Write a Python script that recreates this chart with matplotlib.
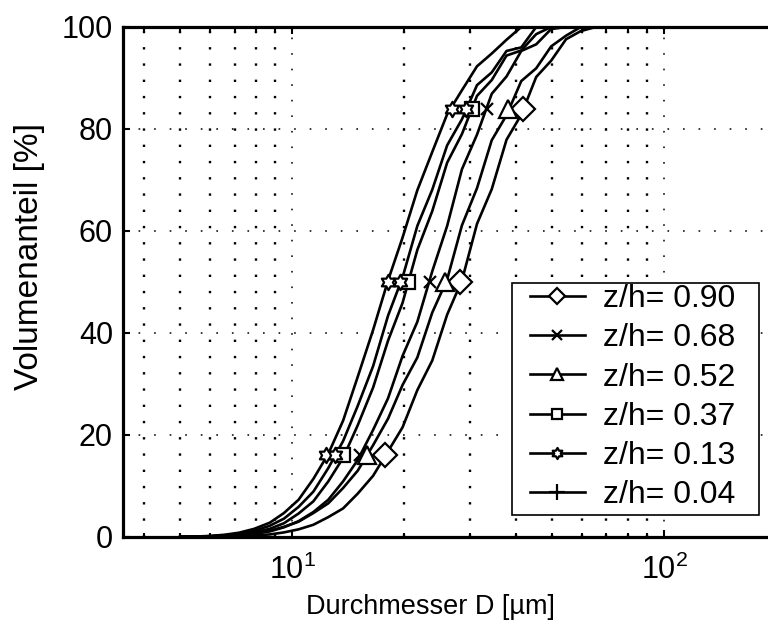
import numpy as np
import matplotlib
matplotlib.use('Agg')
import matplotlib.pyplot as plt
from matplotlib.path import Path
from matplotlib.lines import Line2D
from matplotlib.patches import Rectangle

plt.rcParams['font.family'] = ['Liberation Sans', 'DejaVu Sans']
plt.rcParams['mathtext.fontset'] = 'custom'
plt.rcParams['mathtext.rm'] = 'Liberation Sans'
plt.rcParams['mathtext.it'] = 'Liberation Sans'
plt.rcParams['lines.scale_dashes'] = False

# ---------------- data ----------------
labels = ['z/h= 0.90', 'z/h= 0.68', 'z/h= 0.52', 'z/h= 0.37', 'z/h= 0.13', 'z/h= 0.04']

diam = [5.0, 5.5, 6.0, 6.6, 7.2, 7.9, 8.7, 9.5, 10.4, 11.4, 12.5, 13.7, 15.0, 16.5,
        18.1, 19.8, 21.7, 23.8, 26.1, 28.6, 31.4, 34.4, 37.7, 41.3, 45.3, 49.7,
        54.5, 59.7, 65.5]

v090 = [0, 0, 0.05, 0.1, 0.2, 0.3, 0.5, 0.9, 1.5, 2.4, 3.9, 5.6, 8.5, 12.0, 16.8,
        21.5, 28.8, 34.6, 43.6, 50.3, 61.4, 68.2, 77.9, 82.8, 90.2, 93.4, 97.6, 99.2, 100]
v068 = [0, 0.04, 0.1, 0.2, 0.35, 0.6, 1.1, 1.9, 3.1, 4.9, 7.3, 10.9, 15.1, 21.0, 27.2,
        35.5, 42.2, 52.1, 61.0, 72.1, 78.9, 86.9, 90.3, 95.3, 96.6, 99.6, 100, 100, 100]
v052 = [0.03, 0.07, 0.13, 0.25, 0.4, 0.75, 1.2, 2.0, 3.0, 4.7, 6.6, 9.6, 13.0, 18.0, 23.2,
        29.8, 35.2, 44.0, 50.5, 61.1, 68.4, 77.8, 82.7, 89.4, 91.9, 96.2, 98.3, 100, 100]
v037 = [0, 0.05, 0.1, 0.23, 0.45, 0.9, 1.6, 2.7, 4.6, 7.0, 10.9, 15.5, 21.9, 29.3, 38.5,
        45.9, 56.3, 63.9, 73.4, 79.0, 86.5, 89.6, 94.4, 95.4, 98.6, 100, 100, 100, 100]
v013 = [0.05, 0.1, 0.2, 0.45, 0.85, 1.6, 2.8, 4.7, 7.3, 11.4, 16.3, 22.8, 31.4, 40.6, 50.3,
        58.7, 68.0, 75.5, 82.9, 87.6, 92.3, 94.8, 97.5, 100, 100, 100, 100, 100, 100]
v004 = [0.03, 0.08, 0.16, 0.35, 0.65, 1.2, 2.2, 3.6, 5.9, 8.9, 13.5, 18.8, 25.7, 33.5, 43.4,
        50.9, 61.0, 68.1, 76.8, 81.9, 88.6, 91.1, 95.3, 96.0, 100, 100, 100, 100, 100]

# characteristic diameters d16 / d50 / d84 (marker positions)
levels = [16, 50, 84]
d16 = [17.8, 15.2, 15.9, 13.7, 12.3, 13.05]
d50 = [28.3, 23.5, 25.8, 20.5, 18.1, 19.5]
d84 = [41.8, 33.4, 38.1, 30.5, 26.9, 29.4]

series = [v090, v068, v052, v037, v013, v004]

# ---------------- styles ----------------
ang = np.deg2rad(90 + 30 * np.arange(12))
rad = np.where(np.arange(12) % 2 == 0, 1.0, 0.577)
hexverts = np.column_stack([rad * np.cos(ang), rad * np.sin(ang)])
hexverts = np.vstack([hexverts, hexverts[:1]])
hexagram = Path(hexverts, closed=True)

plot_markers = ['D', 'x', '^', 's', hexagram, hexagram]
plot_msizes = [12.5, 9, 13, 10, 11, 11]
leg_markers = ['D', 'x', '^', 's', hexagram, '+']
leg_msizes = [8, 6.5, 9, 7, 8, 12]

W, H = 768, 628
fig = plt.figure(figsize=(W / 100, H / 100), dpi=100)
ax = fig.add_axes([122.7 / W, (H - 537) / H, (776 - 122.7) / W, (537 - 27) / H])

for vals, mk, ms, a, b, c in zip(series, plot_markers, plot_msizes, d16, d50, d84):
    ax.plot(diam, vals, color='black', lw=1.9, zorder=3)
    ax.plot([a, b, c], levels, ls='none', marker=mk, ms=ms, mec='black', mfc='white',
            mew=1.6, zorder=4)

ax.set_xscale('log')
ax.set_xlim(3.5, 200)
ax.set_ylim(0, 100)
ax.set_yticks([0, 20, 40, 60, 80, 100])

ax.grid(True, which='major', axis='both', color='black', lw=1.1, linestyle=(0, (1.2, 10)))
ax.grid(True, which='minor', axis='x', color='black', lw=1.7, linestyle=(0, (1.7, 10)))
ax.set_axisbelow(True)

for sp in ax.spines.values():
    sp.set_linewidth(2.3)

ax.tick_params(which='both', direction='in', top=True, right=True, labelsize=22,
               width=1.5, colors='black')
ax.tick_params(which='major', length=5)
ax.tick_params(which='minor', length=3)
ax.tick_params(axis='x', which='major', pad=13)
ax.tick_params(axis='y', which='major', pad=7)

ax.set_xlabel('Durchmesser D [µm]', fontsize=19.5)
ax.xaxis.set_label_coords((430 - 122.7) / (776 - 122.7), -(607 - 537) / 510)
ax.xaxis.label.set_va('center')
ax.set_ylabel('Volumenanteil [%]', fontsize=24)
ax.yaxis.set_label_coords(-(122.7 - 30) / (776 - 122.7), (537 - 256) / 510)
ax.yaxis.label.set_va('center')

# legend box
box = Rectangle((512 / W, 1 - 515 / H), (759 - 512) / W, (515 - 283) / H,
                transform=fig.transFigure, facecolor='white', edgecolor='black',
                lw=1.2, zorder=9)
fig.patches.append(box)

handles = [Line2D([], [], color='black', lw=1.9, marker=m, ms=s, mec='black',
                  mfc='white', mew=1.6) for m, s in zip(leg_markers, leg_msizes)]
leg = fig.legend(handles, labels, loc='upper left',
                 bbox_to_anchor=(530 / W, 1 - 284 / H),
                 fontsize=23, frameon=False, borderaxespad=0, handlelength=1.72,
                 handletextpad=0.56, labelspacing=0.29, borderpad=0)
leg.set_zorder(10)

fig.savefig('out.png', dpi=100)
